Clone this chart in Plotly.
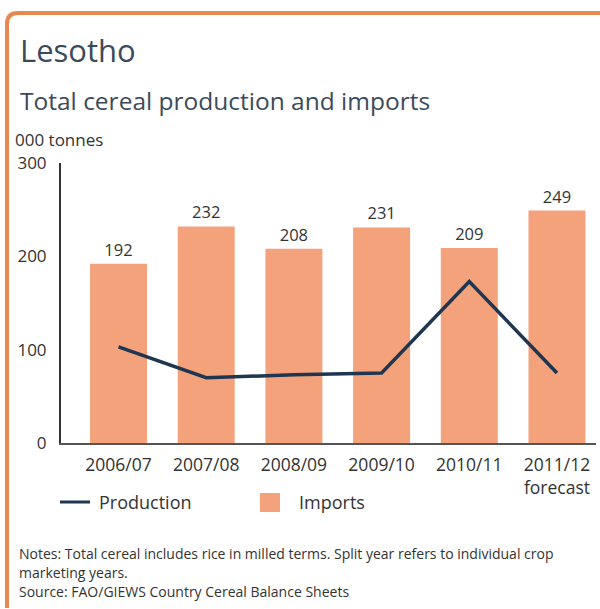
import plotly.graph_objects as go

categories = ["2006/07", "2007/08", "2008/09", "2009/10", "2010/11", "2011/12"]
tick_labels = ["2006/07", "2007/08", "2008/09", "2009/10", "2010/11", "2011/12<br>forecast"]
imports = [192, 232, 208, 231, 209, 249]
production = [103, 70, 73, 75, 173, 75]

W, H = 600, 609
L, R, T, B = 61, 596, 163, 443  # plot area in pixels

def px(x):
    return (x - L) / (R - L)

def py(y):
    return (B - y) / (B - T)

BAR = "#f4a27c"
NAVY = "#1f3650"
ORANGE = "#e8874f"
TXT = "#333333"
TITLE = "#3b4b5c"
FONT = "Open Sans"

fig = go.Figure()
fig.add_trace(go.Bar(
    x=categories, y=imports, width=0.65, marker=dict(color=BAR, line=dict(width=0)),
    text=[str(v) for v in imports], textposition="outside",
    textfont=dict(size=16.5, color=TXT, family=FONT), cliponaxis=False, name="Imports",
))
fig.add_trace(go.Scatter(
    x=categories, y=production, mode="lines", line=dict(color=NAVY, width=3.5),
    name="Production",
))

shapes = []
shapes.append(dict(
    type="path", xref="paper", yref="paper",
    path=f"M {px(7)},{py(608)} L {px(7)},{py(24)} Q {px(7)},{py(13)} {px(18)},{py(13)} L {px(600)},{py(13)}",
    line=dict(color=ORANGE, width=4),
))
shapes.append(dict(type="line", xref="paper", yref="paper",
                   x0=px(60), x1=px(90), y0=py(502), y1=py(502),
                   line=dict(color=NAVY, width=3)))
shapes.append(dict(type="rect", xref="paper", yref="paper",
                   x0=px(260), x1=px(280), y0=py(493), y1=py(512),
                   fillcolor=BAR, line=dict(width=0)))

def ann(text, x, y, size, color=TXT, xanchor="left"):
    return dict(text=text, xref="paper", yref="paper", x=px(x), y=py(y),
                xanchor=xanchor, yanchor="middle", showarrow=False,
                font=dict(size=size, color=color, family=FONT), align="left")

annotations = [
    ann("Lesotho", 18, 50, 31, TITLE),
    ann("Total cereal production and imports", 18, 101, 24.5, TITLE),
    ann("000 tonnes", 13, 139, 17, TXT),
    ann("Production", 97, 502, 18, TXT),
    ann("Imports", 297, 502, 18, TXT),
    ann("Notes: Total cereal includes rice in milled terms. Split year refers to individual crop", 17, 553, 14, TXT),
    ann("marketing years.", 17, 572, 14, TXT),
    ann("Source: FAO/GIEWS Country Cereal Balance Sheets", 17, 591, 14, TXT),
]

fig.update_layout(
    width=W, height=H,
    margin=dict(l=L, r=W - R, t=T, b=H - B, pad=0),
    paper_bgcolor="white", plot_bgcolor="white",
    showlegend=False, bargap=0.35,
    font=dict(family=FONT, color=TXT),
    shapes=shapes, annotations=annotations,
    xaxis=dict(
        range=[-0.656, 5.445], tickmode="array", tickvals=categories, ticktext=tick_labels,
        showline=True, linecolor="#555555", linewidth=2, showgrid=False, zeroline=False,
        ticks="", tickfont=dict(size=17.5, color=TXT, family=FONT), ticklabelstandoff=5,
    ),
    yaxis=dict(
        range=[0, 300], tickvals=[0, 100, 200, 300],
        showline=True, linecolor="#333333", linewidth=2, showgrid=False, zeroline=False,
        ticks="", tickfont=dict(size=17, color=TXT, family=FONT), ticklabelstandoff=9,
    ),
)

fig.write_html("out.html", config={"displayModeBar": False},
               post_script="document.body.style.margin='0px';document.body.style.overflow='hidden';")
